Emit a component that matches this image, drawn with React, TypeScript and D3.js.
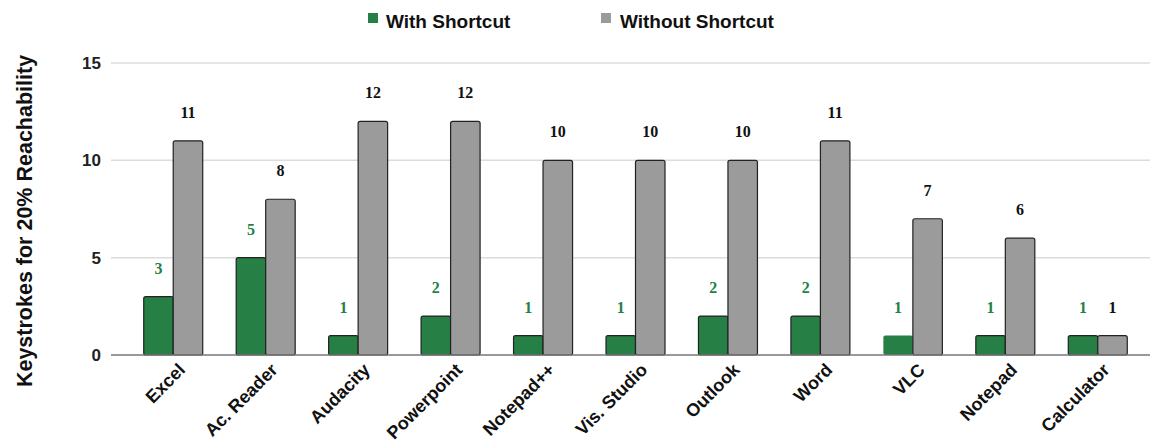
import React from "react";
import * as d3 from "d3";

const categories = ["Excel", "Ac. Reader", "Audacity", "Powerpoint", "Notepad++", "Vis. Studio", "Outlook", "Word", "VLC", "Notepad", "Calculator"];
const withShortcut = [3, 5, 1, 2, 1, 1, 2, 2, 1, 1, 1];
const withoutShortcut = [11, 8, 12, 12, 10, 10, 10, 11, 7, 6, 1];
const yTicks = [0, 5, 10, 15];
const seriesNames = ["With Shortcut", "Without Shortcut"];

const W = 1153, H = 448;
const GREEN = "#267F45";
const GRAY = "#9B9B9B";

export default function App() {
  const x = d3.scaleBand<string>().domain(categories).range([127, 1144]).paddingInner(0).paddingOuter(0);
  const y = d3.scaleLinear().domain([0, 15]).range([355, 63]);
  const bw = 29.5;
  const font = "'Liberation Sans', Arial, sans-serif";
  const serif = "'Liberation Serif', 'DejaVu Serif', serif";
  return (
    <svg width={W} height={H} style={{ position: "absolute", left: 0, top: 0, background: "#fff" }}>
      {/* legend */}
      <rect x={368} y={13} width={10} height={10} fill={GREEN} />
      <text x={386} y={28} fontFamily={font} fontWeight="bold" fontSize={19} fill="#111">{seriesNames[0]}</text>
      <rect x={601} y={13} width={10} height={10} fill={GRAY} />
      <text x={620} y={28} fontFamily={font} fontWeight="bold" fontSize={19} fill="#111">{seriesNames[1]}</text>
      {/* grid */}
      {yTicks.map((t) => (
        <g key={t}>
          {t > 0 && <line x1={111} x2={1150} y1={y(t)} y2={y(t)} stroke="#dcdcdc" strokeWidth={1.5} />}
          <text x={101} y={y(t) + 6} textAnchor="end" fontFamily={font} fontWeight="bold" fontSize={17} fill="#222">{t}</text>
        </g>
      ))}
      {/* y title */}
      <text transform={`translate(32,221) rotate(-90)`} textAnchor="middle" fontFamily={font} fontWeight="bold" fontSize={21.5} fill="#111">Keystrokes for 20% Reachability</text>
      {/* bars */}
      {categories.map((c, i) => {
        const cx = (x(c) as number) + x.bandwidth() / 2;
        const gx = cx - bw;
        const wy = y(withShortcut[i]);
        const oy = y(withoutShortcut[i]);
        const noBorder = c === "VLC";
        return (
          <g key={c}>
            <rect x={gx} y={wy} width={bw} height={355 - wy} fill={GREEN} stroke={noBorder ? "none" : "#222"} strokeWidth={1.2} rx={2} />
            <rect x={cx} y={oy} width={bw} height={355 - oy} fill={GRAY} stroke="#222" strokeWidth={1.2} rx={2} />
            <text x={gx + bw / 2} y={wy - 23} textAnchor="middle" fontFamily={serif} fontWeight="bold" fontSize={16} fill={GREEN}>{withShortcut[i]}</text>
            <text x={cx + bw / 2} y={oy - 23} textAnchor="middle" fontFamily={serif} fontWeight="bold" fontSize={16} fill="#111">{withoutShortcut[i]}</text>
            <text transform={`translate(${cx + 13},371) rotate(-45)`} textAnchor="end" fontFamily={font} fontWeight="bold" fontSize={18} fill="#111">{c}</text>
          </g>
        );
      })}
      <line x1={111} x2={1150} y1={355} y2={355} stroke="#777" strokeWidth={1.5} />
    </svg>
  );
}
